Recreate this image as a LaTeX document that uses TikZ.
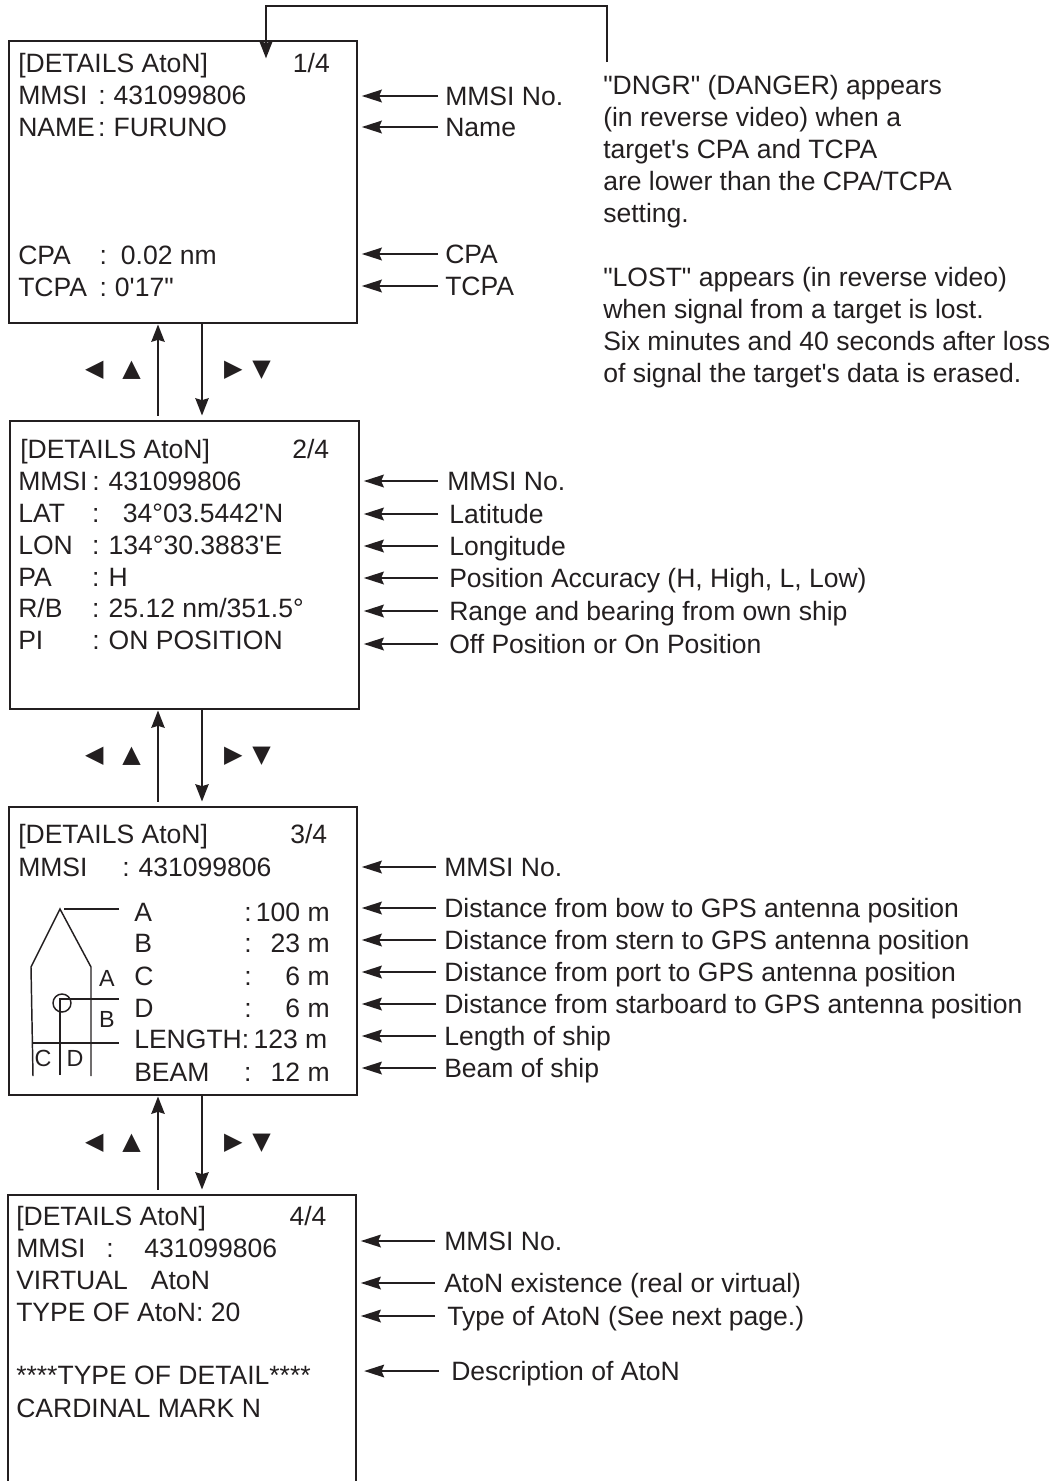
\documentclass[tikz,border=0pt]{standalone}
\usepackage{fontspec}
\newfontfamily\atonfont{Liberation Sans}
\newfontfamily\keyfont{DejaVu Sans}
\usepackage{xcolor}
\definecolor{ink}{HTML}{231F20}
\usepackage{tikz}
\usetikzlibrary{arrows.meta,fit}
\newcommand{\kw}[2]{\makebox[#1][l]{#2}}
\newcommand{\rv}[2]{\makebox[#1][r]{#2}}
\tikzset{
  screen/.style={draw=ink,line width=2.2pt,inner sep=0pt,fit={#1}},
  txt/.style={anchor=west,inner sep=0pt,text=ink,text height=14.2pt,text depth=0pt,font=\atonfont\fontsize{19.9}{24}\selectfont},
  lab/.style={txt},
  note/.style={anchor=north west,inner sep=0pt,text=ink,align=left,font=\atonfont\fontsize{19.9}{24}\selectfont},
  mini/.style={inner sep=0pt,text=ink,font=\atonfont\fontsize{17.5}{18}\selectfont},
  keys/.style={inner sep=0pt,text=ink,font=\keyfont\fontsize{18}{20}\selectfont},
  arr/.style={-{Stealth[length=15pt,width=9.5pt,inset=2pt]},draw=ink,line width=1.5pt,shorten >=2.5pt},
  varr/.style={-{Stealth[length=13pt,width=10pt,inset=1.5pt]},draw=ink,line width=1.5pt},
  hull/.style={draw=ink,line width=1.1pt},
}
\begin{document}
\begin{tikzpicture}[x=0.75pt,y=-0.75pt]
\useasboundingbox (0,0) rectangle (1055,1481);
\clip (0,0) rectangle (1055,1481);
\node[screen={(9,41)(357,323)}] (s1) {};
\node[screen={(10,421)(359,709)}] (s2) {};
\node[screen={(9,807)(357,1095)}] (s3) {};
\node[screen={(8,1195)(356,1520)}] (s4) {};
\node[txt] (t11) at (18,63) {\kw{206pt}{[DETAILS AtoN]}1/4};
\node[txt] (t12) at (18,95) {\kw{60pt}{MMSI}:\hspace{6pt}431099806};
\node[txt] (t13) at (18,127) {\kw{60pt}{NAME}:\hspace{6pt}FURUNO};
\node[txt] (t14) at (18,255) {\kw{61pt}{CPA}:\hspace{10.5pt}0.02 nm};
\node[txt] (t15) at (18,287) {\kw{61pt}{TCPA}:\hspace{6pt}0'17"};
\node[lab] (l11) at (445,96) {MMSI No.};
\node[lab] (l12) at (445,127) {Name};
\node[lab] (l13) at (445,254) {CPA};
\node[lab] (l14) at (445,286) {TCPA};
\draw[arr] (l11.west) ++(-7,0) coordinate (c11) -- (c11 -| s1.east);
\draw[arr] (l12.west) ++(-7,0) coordinate (c12) -- (c12 -| s1.east);
\draw[arr] (l13.west) ++(-7,0) coordinate (c13) -- (c13 -| s1.east);
\draw[arr] (l14.west) ++(-7,0) coordinate (c14) -- (c14 -| s1.east);
\node[note] (n1) at (603,75) {"DNGR" (DANGER) appears\\(in reverse video) when a\\target's CPA and TCPA\\are lower than the CPA/TCPA\\setting.};
\node[note] (n2) at (603,267) {"LOST" appears (in reverse video)\\when signal from a target is lost.\\Six minutes and 40 seconds after loss\\of signal the target's data is erased.};
\coordinate (c0) at (607,62);
\coordinate (c1) at (266,6);
\draw[-{Stealth[length=13pt,width=10pt,inset=1.5pt]},draw=ink,line width=1.4pt,shorten >=3.5pt] (c0) |- (c1) -- (c1 |- t11.center);
\node[txt] (t21) at (20,449) {\kw{204pt}{[DETAILS AtoN]}2/4};
\node[txt] (t22) at (18,481) {\kw{55.5pt}{MMSI}:\hspace{6.8pt}431099806};
\node[txt] (t23) at (18,513) {\kw{55.5pt}{LAT}:\hspace{17.5pt}34°03.5442'N};
\node[txt] (t24) at (18,545) {\kw{55.5pt}{LON}:\hspace{6.8pt}134°30.3883'E};
\node[txt] (t25) at (18,577) {\kw{55.5pt}{PA}:\hspace{6.8pt}H};
\node[txt] (t26) at (18,608) {\kw{55.5pt}{R/B}:\hspace{6.8pt}25.12 nm/351.5°};
\node[txt] (t27) at (18,640) {\kw{55.5pt}{PI}:\hspace{6.8pt}ON POSITION};
\node[lab] (l21) at (447,481) {MMSI No.};
\node[lab] (l22) at (449,514) {Latitude};
\node[lab] (l23) at (449,546) {Longitude};
\node[lab] (l24) at (449,578) {Position Accuracy (H, High, L, Low)};
\node[lab] (l25) at (449,611) {Range and bearing from own ship};
\node[lab] (l26) at (449,644) {Off Position or On Position};
\draw[arr] (l21.west) ++(-9,0) coordinate (c21) -- (c21 -| s2.east);
\draw[arr] (l22.west) ++(-11,0) coordinate (c22) -- (c22 -| s2.east);
\draw[arr] (l23.west) ++(-11,0) coordinate (c23) -- (c23 -| s2.east);
\draw[arr] (l24.west) ++(-11,0) coordinate (c24) -- (c24 -| s2.east);
\draw[arr] (l25.west) ++(-11,0) coordinate (c25) -- (c25 -| s2.east);
\draw[arr] (l26.west) ++(-11,0) coordinate (c26) -- (c26 -| s2.east);
\node[txt] (t31) at (18,834) {\kw{204pt}{[DETAILS AtoN]}3/4};
\node[txt] (t32) at (18,867) {\kw{78pt}{MMSI}:\hspace{6.8pt}431099806};
\node[txt] (t33) at (134,912) {\kw{82.5pt}{A}:\rv{58.5pt}{100 m}};
\node[txt] (t34) at (134,943) {\kw{82.5pt}{B}:\rv{58.5pt}{23 m}};
\node[txt] (t35) at (134,976) {\kw{82.5pt}{C}:\rv{58.5pt}{6 m}};
\node[txt] (t36) at (134,1008) {\kw{82.5pt}{D}:\rv{58.5pt}{6 m}};
\node[txt] (t37) at (134,1039) {LENGTH:\rv{58.5pt}{123 m}};
\node[txt] (t38) at (134,1072) {\kw{82.5pt}{BEAM}:\rv{58.5pt}{12 m}};
\draw[hull] (119,909) -- (64,909);
\draw[hull] (33,1076) -- (31,967) -- (60,909) -- (91,967) -- (91,1076);
\draw[hull] (62,1003) circle[radius=9];
\draw[hull] (60,1075) -- (60,999) -- (119,999);
\draw[hull] (32,1043) -- (119,1043);
\node[mini] (a3) at (107,978) {A};
\node[mini] (b3) at (107,1019) {B};
\node[mini] (c3) at (43,1058) {C};
\node[mini] (d3) at (75,1058) {D};
\node[lab] (l31) at (444,867) {MMSI No.};
\node[lab] (l32) at (444,908) {Distance from bow to GPS antenna position};
\node[lab] (l33) at (444,940) {Distance from stern to GPS antenna position};
\node[lab] (l34) at (444,972) {Distance from port to GPS antenna position};
\node[lab] (l35) at (444,1004) {Distance from starboard to GPS antenna position};
\node[lab] (l36) at (444,1036) {Length of ship};
\node[lab] (l37) at (444,1068) {Beam of ship};
\draw[arr] (l31.west) ++(-8,0) coordinate (c31) -- (c31 -| s3.east);
\draw[arr] (l32.west) ++(-8,0) coordinate (c32) -- (c32 -| s3.east);
\draw[arr] (l33.west) ++(-8,0) coordinate (c33) -- (c33 -| s3.east);
\draw[arr] (l34.west) ++(-8,0) coordinate (c34) -- (c34 -| s3.east);
\draw[arr] (l35.west) ++(-8,0) coordinate (c35) -- (c35 -| s3.east);
\draw[arr] (l36.west) ++(-8,0) coordinate (c36) -- (c36 -| s3.east);
\draw[arr] (l37.west) ++(-8,0) coordinate (c37) -- (c37 -| s3.east);
\node[txt] (t41) at (16,1216) {\kw{205pt}{[DETAILS AtoN]}4/4};
\node[txt] (t42) at (16,1248) {\kw{67.5pt}{MMSI}:\hspace{23pt}431099806};
\node[txt] (t43) at (16,1280) {\kw{101pt}{VIRTUAL}AtoN};
\node[txt] (t44) at (16,1312) {TYPE OF AtoN: 20};
\node[txt] (t45) at (16,1375) {****TYPE OF DETAIL****};
\node[txt] (t46) at (16,1408) {CARDINAL MARK N};
\node[lab] (l41) at (444,1241) {MMSI No.};
\node[lab] (l42) at (444,1283) {AtoN existence (real or virtual)};
\node[lab] (l43) at (447,1316) {Type of AtoN (See next page.)};
\node[lab] (l44) at (451,1371) {Description of AtoN};
\draw[arr] (l41.west) ++(-9,0) coordinate (c41) -- (c41 -| s4.east);
\draw[arr] (l42.west) ++(-9,0) coordinate (c42) -- (c42 -| s4.east);
\draw[arr] (l43.west) ++(-12,0) coordinate (c43) -- (c43 -| s4.east);
\draw[arr,shorten >=5pt] (l44.west) ++(-12,0) coordinate (c44) -- (c44 -| s4.east);
\coordinate (up) at (158,0);
\coordinate (dn) at (202,0);
\draw[varr] (s2.north -| up) ++(0,-4) coordinate (a1) -- (a1 |- s1.south);
\draw[varr] (s1.south -| dn) -- ([yshift=3pt]s2.north -| dn);
\draw[varr] (s3.north -| up) ++(0,-4) coordinate (a2) -- (a2 |- s2.south);
\draw[varr] (s2.south -| dn) -- ([yshift=3pt]s3.north -| dn);
\draw[varr] (s4.north -| up) ++(0,-4) coordinate (a3) -- (a3 |- s3.south);
\draw[varr] (s3.south -| dn) -- ([yshift=3pt]s4.north -| dn);
\node[keys] (k1l) at (113,370) {◀\hspace{14.25pt}▲};
\node[keys] (k1r) at (247.5,370) {▶\hspace{7.5pt}▼};
\node[keys] (k2l) at (113,756) {◀\hspace{14.25pt}▲};
\node[keys] (k2r) at (247.5,756) {▶\hspace{7.5pt}▼};
\node[keys] (k3l) at (113,1143) {◀\hspace{14.25pt}▲};
\node[keys] (k3r) at (247.5,1143) {▶\hspace{7.5pt}▼};
\end{tikzpicture}
\end{document}
